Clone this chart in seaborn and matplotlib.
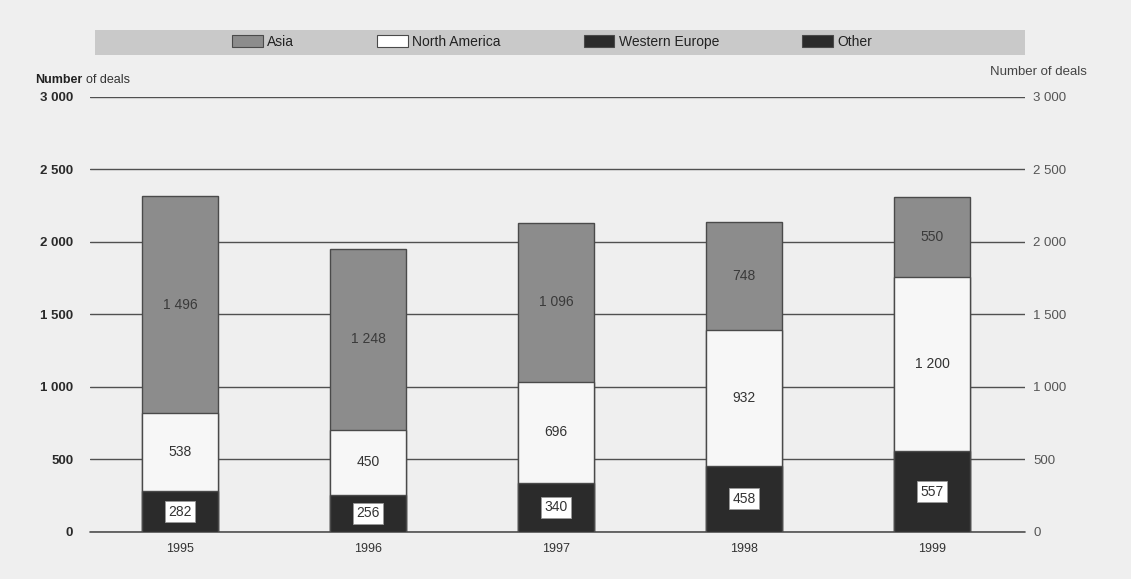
import matplotlib
matplotlib.use("Agg")
import matplotlib.pyplot as plt
from matplotlib.patches import Patch, Rectangle
import seaborn as sns
import pandas as pd

# Number of deals by region
years = ["1995", "1996", "1997", "1998", "1999"]
other = [282, 256, 340, 458, 557]
north_america = [538, 450, 696, 932, 1200]
asia = [1496, 1248, 1096, 748, 550]
legend_labels = ["Asia", "North America", "Western Europe", "Other"]
y_ticks = [0, 500, 1000, 1500, 2000, 2500, 3000]
y_tick_labels = ["0", "500", "1 000", "1 500", "2 000", "2 500", "3 000"]

sns.set_theme(style="white")
plt.rcParams["font.family"] = ["Liberation Sans", "DejaVu Sans"]

c_asia = "#8c8c8c"
c_na = "#f7f7f7"
c_dark = "#2b2b2b"
c_edge = "#4a4a4a"
paper = "#efefef"

df = pd.DataFrame({"year": years, "other": other,
                   "north_america": north_america, "asia": asia})
df["na_top"] = df["other"] + df["north_america"]
df["total"] = df["na_top"] + df["asia"]

fig = plt.figure(figsize=(11.31, 5.79), dpi=100, facecolor=paper)
ax = fig.add_axes([0.0796, 0.0812, 0.8267, 0.7513])
ax.set_facecolor(paper)

# stacked bars: draw cumulative heights from top layer down
for col, color in [("total", c_asia), ("na_top", c_na), ("other", c_dark)]:
    sns.barplot(data=df, x="year", y=col, color=color, width=0.4,
                edgecolor=c_edge, linewidth=1.0, saturation=1, ax=ax, zorder=3)

ax.set_xlim(-0.479, 4.495)
ax.set_ylim(0, 3000)
ax.set_yticks(y_ticks)
ax.set_yticklabels(y_tick_labels)
ax.set_xlabel("")
ax.set_ylabel("")
ax.grid(axis="y", color="#505050", linewidth=1.0)
ax.grid(axis="x", visible=False)
ax.axhline(0, color="#505050", linewidth=1.2, zorder=2, clip_on=False)
ax.set_axisbelow(True)
for s in ax.spines.values():
    s.set_visible(False)
ax.tick_params(axis="y", length=0, labelsize=9.5, colors="#2a2a2a", pad=12)
ax.tick_params(axis="x", length=0, labelsize=9, colors="#333333", pad=8)
for t in ax.get_yticklabels():
    t.set_fontweight("bold")

# right-hand scale
ax2 = ax.twinx()
ax2.set_ylim(ax.get_ylim())
ax2.set_yticks(y_ticks)
ax2.set_yticklabels(y_tick_labels)
ax2.tick_params(axis="y", length=0, labelsize=9.5, colors="#555555", pad=6)
for s in ax2.spines.values():
    s.set_visible(False)
ax2.grid(False)

# value labels
for i in range(len(years)):
    ax.text(i, other[i] / 2, f"{other[i]}", ha="center", va="center",
            fontsize=10, color="#333333", zorder=5,
            bbox=dict(boxstyle="square,pad=0.25", fc="white", ec="#999999", lw=0.6))
    na_mid = other[i] + north_america[i] / 2
    na_txt = f"{north_america[i]:,}".replace(",", " ")
    ax.text(i, na_mid, na_txt, ha="center", va="center", fontsize=10,
            color="#333333", zorder=5)
    as_mid = other[i] + north_america[i] + asia[i] / 2
    as_txt = f"{asia[i]:,}".replace(",", " ")
    ax.text(i, as_mid, as_txt, ha="center", va="center", fontsize=10,
            color="#3a3a3a", zorder=5)

# axis titles
t1 = fig.text(35 / 1131, 1 - 80 / 579, "Number", fontsize=9, color="#222222",
              ha="left", va="center", fontweight="bold")
fig.canvas.draw()
bb = t1.get_window_extent()
fig.text(bb.x1 / 1131 + 0.003, 1 - 80 / 579, "of deals", fontsize=9,
         color="#333333", ha="left", va="center")
fig.text(1087 / 1131, 1 - 72 / 579, "Number of deals", fontsize=9.5, color="#444444",
         ha="right", va="center")

# legend band
band = Rectangle((95 / 1131, 1 - 55 / 579), 930 / 1131, 25 / 579,
                 transform=fig.transFigure, facecolor="#c9c9c9", edgecolor="none",
                 zorder=0)
fig.patches.append(band)
handles = [Patch(facecolor=c_asia, edgecolor=c_edge, linewidth=0.8),
           Patch(facecolor="white", edgecolor=c_edge, linewidth=0.8),
           Patch(facecolor=c_dark, edgecolor=c_edge, linewidth=0.8),
           Patch(facecolor=c_dark, edgecolor=c_edge, linewidth=0.8)]
fig.legend(handles, legend_labels, loc="center", ncol=4,
           bbox_to_anchor=(552 / 1131, 1 - 42 / 579), frameon=False,
           fontsize=10, handlelength=2.2, handleheight=1.0, handletextpad=0.3,
           columnspacing=6.0, labelcolor="#222222")

fig.savefig("out.png", dpi=100, facecolor=paper)
